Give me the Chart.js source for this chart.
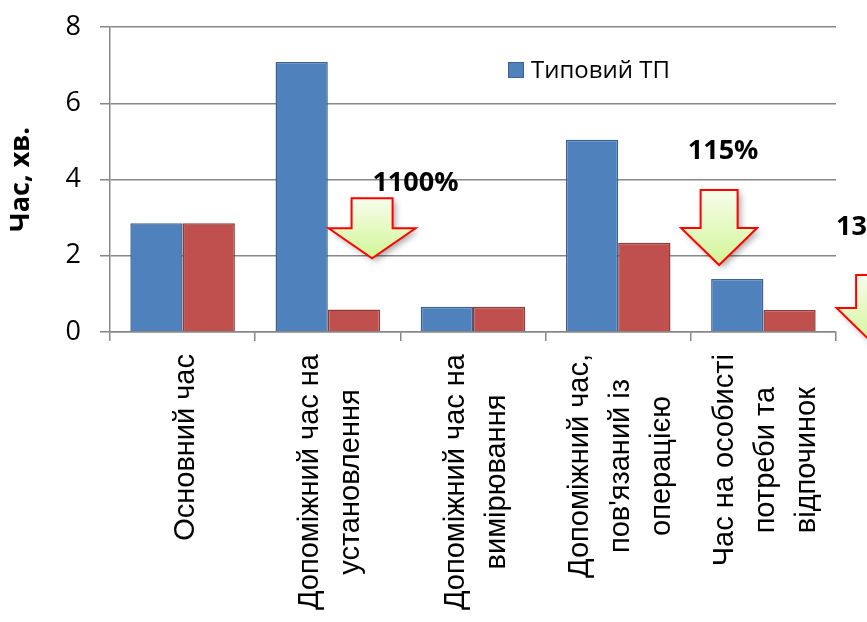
<!DOCTYPE html>
<html>
<head>
<meta charset="utf-8">
<script src="https://cdn.jsdelivr.net/npm/chart.js@4.4.1/dist/chart.umd.min.js"></script>
<style>
  html, body { margin: 0; padding: 0; background: #fff; overflow: hidden; }
  #wrap { width: 867px; height: 622px; position: relative; }
</style>
</head>
<body>
<div id="wrap"><canvas id="chart" width="867" height="622"></canvas></div>
<script>
// Time components of the operation, minutes
const categories = [
  ['Основний час'],
  ['Допоміжний час на', 'установлення'],
  ['Допоміжний час на', 'вимірювання'],
  ['Допоміжний час,', 'пов\'язаний із', 'операцією'],
  ['Час на особисті', 'потреби та', 'відпочинок']
];
const seriesNames = ['Типовий ТП', 'Удосконалений ТП'];
const typicalTP = [2.85, 7.08, 0.66, 5.04, 1.39];
const improvedTP = [2.85, 0.59, 0.66, 2.34, 0.58];
const yTickValues = [0, 2, 4, 6, 8];
const reductionLabels = ['1100%', '115%', '139%'];

// Placement of the reduction arrows and their captions (in axis units) and arrow sizes (px)
const arrowLayout = [
  { tipX: 1.305, tipY: 1.933, shaftW: 41, headW: 87, shaftH: 30, headH: 30, textX: 1.307, textY: 3.698 },
  { tipX: 3.695, tipY: 1.757, shaftW: 37, headW: 76, shaftH: 38, headH: 37, textX: 3.479, textY: 4.525 },
  { tipX: 4.766, tipY: -0.341, shaftW: 37, headW: 76, shaftH: 33, headH: 37, textX: 4.5, textY: 2.544 }
];

const GRID = '#878787';
const BLUE = '#4f81bd', BLUE_EDGE = '#3b6291';
const RED = '#c0504d', RED_EDGE = '#8e3a38';

function drawArrow(ctx, x, y, a) {
  const wingY = y - a.headH, topY = wingY - a.shaftH;
  ctx.beginPath();
  ctx.moveTo(x - a.shaftW / 2, topY);
  ctx.lineTo(x + a.shaftW / 2, topY);
  ctx.lineTo(x + a.shaftW / 2, wingY);
  ctx.lineTo(x + a.headW / 2, wingY);
  ctx.lineTo(x, y);
  ctx.lineTo(x - a.headW / 2, wingY);
  ctx.lineTo(x - a.shaftW / 2, wingY);
  ctx.closePath();
  const g = ctx.createLinearGradient(0, topY, 0, y);
  g.addColorStop(0, '#f7fdec');
  g.addColorStop(1, '#d2f596');
  ctx.save();
  ctx.shadowColor = 'rgba(0,0,0,0.35)';
  ctx.shadowBlur = 6;
  ctx.shadowOffsetX = 3;
  ctx.shadowOffsetY = 3;
  ctx.fillStyle = g;
  ctx.fill();
  ctx.restore();
  ctx.lineWidth = 2;
  ctx.strokeStyle = '#ff0000';
  ctx.lineJoin = 'miter';
  ctx.stroke();
}

const decorations = {
  id: 'decorations',
  afterDraw(chart) {
    const ctx = chart.ctx;
    const xs = chart.scales.x, ys = chart.scales.y;
    const area = chart.chartArea;

    // category labels, rotated, lines centred on the longest one
    ctx.save();
    ctx.fillStyle = '#000';
    ctx.font = '29px "Liberation Sans", Arial, sans-serif';
    ctx.textAlign = 'center';
    ctx.textBaseline = 'middle';
    const lineGap = 41;
    categories.forEach((lines, i) => {
      const cx = xs.getPixelForValue(i);
      const w = Math.max(...lines.map(l => ctx.measureText(l).width));
      const top = area.bottom + 22;
      ctx.save();
      ctx.translate(cx, top + w / 2);
      ctx.rotate(-Math.PI / 2);
      lines.forEach((l, k) => {
        ctx.fillText(l, 0, (k - (lines.length - 1) / 2) * lineGap + 3);
      });
      ctx.restore();
    });
    ctx.restore();

    // legend
    ctx.save();
    const lx = 508, ly = 62;
    ctx.fillStyle = BLUE;
    ctx.fillRect(lx, ly, 16, 16);
    ctx.strokeStyle = BLUE_EDGE;
    ctx.lineWidth = 1;
    ctx.strokeRect(lx + 0.5, ly + 0.5, 15, 15);
    ctx.fillStyle = '#000';
    ctx.font = '24px "Open Sans", sans-serif';
    ctx.textAlign = 'left';
    ctx.textBaseline = 'middle';
    ctx.fillText(seriesNames[0], 531, 71);
    ctx.restore();

    // reduction arrows with captions
    ctx.save();
    arrowLayout.forEach((a, i) => {
      drawArrow(ctx, xs.getPixelForValue(a.tipX), ys.getPixelForValue(a.tipY), a);
      ctx.fillStyle = '#000';
      ctx.font = 'bold 27px "Open Sans", sans-serif';
      ctx.textAlign = 'left';
      ctx.textBaseline = 'alphabetic';
      ctx.fillText(reductionLabels[i], xs.getPixelForValue(a.textX), ys.getPixelForValue(a.textY));
    });
    ctx.restore();
  }
};

new Chart(document.getElementById('chart'), {
  type: 'bar',
  data: {
    labels: categories,
    datasets: [
      { label: seriesNames[0], data: typicalTP, backgroundColor: BLUE, borderColor: BLUE_EDGE, borderWidth: 1.5 },
      { label: seriesNames[1], data: improvedTP, backgroundColor: RED, borderColor: RED_EDGE, borderWidth: 1.5 }
    ]
  },
  options: {
    responsive: false,
    animation: false,
    devicePixelRatio: 1,
    layout: { padding: { left: 0, top: 27, right: 31, bottom: 0 } },
    datasets: { bar: { categoryPercentage: 0.72, barPercentage: 1.0 } },
    plugins: { legend: { display: false }, tooltip: { enabled: false } },
    scales: {
      x: {
        grid: { drawOnChartArea: false, drawTicks: true, tickLength: 9, color: GRID, lineWidth: 1.5, offset: true },
        border: { color: GRID, width: 1.5 },
        ticks: { display: false },
        afterFit(s) { s.height = 290; s.paddingLeft = 0; s.paddingRight = 0; }
      },
      y: {
        min: 0, max: 8,
        afterBuildTicks(s) { s.ticks = yTickValues.map(v => ({ value: v })); },
        grid: { color: GRID, lineWidth: 1.5, tickLength: 10 },
        border: { color: GRID, width: 1.5 },
        ticks: { color: '#000', padding: 19, font: { family: 'Open Sans', size: 27 } },
        title: { display: true, text: 'Час, хв.', color: '#000', padding: { top: 5, bottom: 0 }, font: { family: 'Open Sans', size: 27, weight: 'bold' } },
        afterFit(s) { s.width = 110; s.paddingTop = 0; s.paddingBottom = 0; }
      }
    }
  },
  plugins: [decorations]
});
</script>
</body>
</html>
